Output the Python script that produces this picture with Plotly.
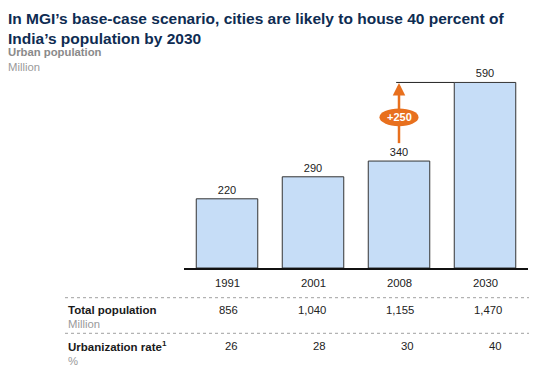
import plotly.graph_objects as go

years = ["1991", "2001", "2008", "2030"]
urban_pop = [220, 290, 340, 590]
total_pop = ["856", "1,040", "1,155", "1,470"]
urban_rate = ["26", "28", "30", "40"]
increase_label = "+250"

# The page body has an 8px margin; work in page pixels and convert.
OFF = 8
W, H = 549 - OFF, 369 - OFF
PLOT_L, PLOT_R, PLOT_T, PLOT_B = 184, 528, 73, 268   # page pixels
L, R, T, B = PLOT_L - OFF, (549 - PLOT_R), PLOT_T - OFF, (369 - PLOT_B)
PW = W - L - R
PH = H - T - B

def px(p):
    return (p - OFF - L) / PW

def py(p):
    return (H - B - (p - OFF)) / PH

FONT = "Liberation Sans, Arial, sans-serif"
ORANGE = "#E8701E"

fig = go.Figure()
fig.add_trace(go.Bar(
    x=list(range(len(years))), y=urban_pop,
    marker=dict(color="#C6DDF7", line=dict(color="#333333", width=1)),
    text=[str(v) for v in urban_pop], textposition="outside",
    textfont=dict(family=FONT, size=11, color="#222222"),
    cliponaxis=False, hoverinfo="skip",
))

ann = []
shapes = []

# title
ann.append(dict(xref="paper", yref="paper", x=px(8.3), y=py(10), xanchor="left", yanchor="top",
                align="left", showarrow=False, borderpad=0, borderwidth=0,
                text="<b>In MGI’s base-case scenario, cities are likely to house 40 percent of<br>India’s population by 2030</b>",
                font=dict(family=FONT, size=15.5, color="#0E2C52")))
ann.append(dict(xref="paper", yref="paper", x=px(8.3), y=py(52.5), xanchor="left", yanchor="middle",
                showarrow=False, borderpad=0, borderwidth=0, text="<b>Urban population</b>",
                font=dict(family=FONT, size=11.3, color="#8A8A8A")))
ann.append(dict(xref="paper", yref="paper", x=px(8.3), y=py(67), xanchor="left", yanchor="middle",
                showarrow=False, borderpad=0, borderwidth=0, text="Million",
                font=dict(family=FONT, size=11.3, color="#9A9A9A")))

# year labels
for i, yr in enumerate(years):
    ann.append(dict(xref="x", yref="paper", x=i, y=py(283.3), xanchor="center", yanchor="middle",
                    showarrow=False, text=yr, font=dict(family=FONT, size=11.3, color="#222222")))

# table rows
ann.append(dict(xref="paper", yref="paper", x=px(65.5), y=py(309.5), xanchor="left", yanchor="middle",
                showarrow=False, text="<b>Total population</b>",
                font=dict(family=FONT, size=11.5, color="#1A1A1A")))
ann.append(dict(xref="paper", yref="paper", x=px(65.5), y=py(324), xanchor="left", yanchor="middle",
                showarrow=False, text="Million", font=dict(family=FONT, size=11.3, color="#9A9A9A")))
ann.append(dict(xref="paper", yref="paper", x=px(65.5), y=py(346), xanchor="left", yanchor="middle",
                showarrow=False, text="<b>Urbanization rate<sup>1</sup></b>",
                font=dict(family=FONT, size=11.5, color="#1A1A1A")))
ann.append(dict(xref="paper", yref="paper", x=px(65.5), y=py(360.5), xanchor="left", yanchor="middle",
                showarrow=False, text="%", font=dict(family=FONT, size=11.3, color="#9A9A9A")))
for i in range(len(years)):
    xr = i * 1.023 + 0.155
    ann.append(dict(xref="x", yref="paper", x=xr, y=py(309.5), xanchor="right", yanchor="middle",
                    showarrow=False, text=total_pop[i], font=dict(family=FONT, size=11.3, color="#222222")))
    ann.append(dict(xref="x", yref="paper", x=xr, y=py(346), xanchor="right", yanchor="middle",
                    showarrow=False, text=urban_rate[i], font=dict(family=FONT, size=11.3, color="#222222")))

for yp in (297.7, 333.3):
    shapes.append(dict(type="line", xref="paper", yref="paper", x0=px(65), x1=px(529), y0=py(yp), y1=py(yp),
                       line=dict(color="#A0A0A0", width=1, dash="dot")))

# increase arrow
top = urban_pop[3]
shapes.append(dict(type="line", xref="x", yref="y", x0=1.967, x1=3 - 0.3575, y0=top, y1=top,
                   line=dict(color="#222222", width=1)))
shapes.append(dict(type="line", xref="x", yref="y", x0=2, x1=2, y0=397, y1=470,
                   line=dict(color=ORANGE, width=2.5)))
ann.append(dict(xref="x", yref="y", axref="x", ayref="y", x=2, y=top - 2, ax=2, ay=490,
                showarrow=True, arrowhead=2, arrowsize=1, arrowwidth=2.5, arrowcolor=ORANGE, text=""))
shapes.append(dict(type="circle", xref="x", yref="y", x0=2 - 0.227, x1=2 + 0.227, y0=451, y1=507,
                   fillcolor=ORANGE, line=dict(color=ORANGE, width=0), layer="above"))
ann.append(dict(xref="x", yref="y", x=2, y=479, showarrow=False, text="<b>" + increase_label + "</b>",
                font=dict(family=FONT, size=11, color="white")))

fig.update_layout(
    width=W, height=H, margin=dict(l=L, r=R, t=T, b=B),
    paper_bgcolor="white", plot_bgcolor="white",
    bargap=0.285, showlegend=False,
    xaxis=dict(range=[-0.5, 3.5], showticklabels=False, ticks="", showgrid=False, zeroline=False,
               showline=True, linecolor="#111111", linewidth=1.5),
    yaxis=dict(range=[0, 620], visible=False, showgrid=False, zeroline=False),
    annotations=ann, shapes=shapes,
)

fig.write_html("out.html")
